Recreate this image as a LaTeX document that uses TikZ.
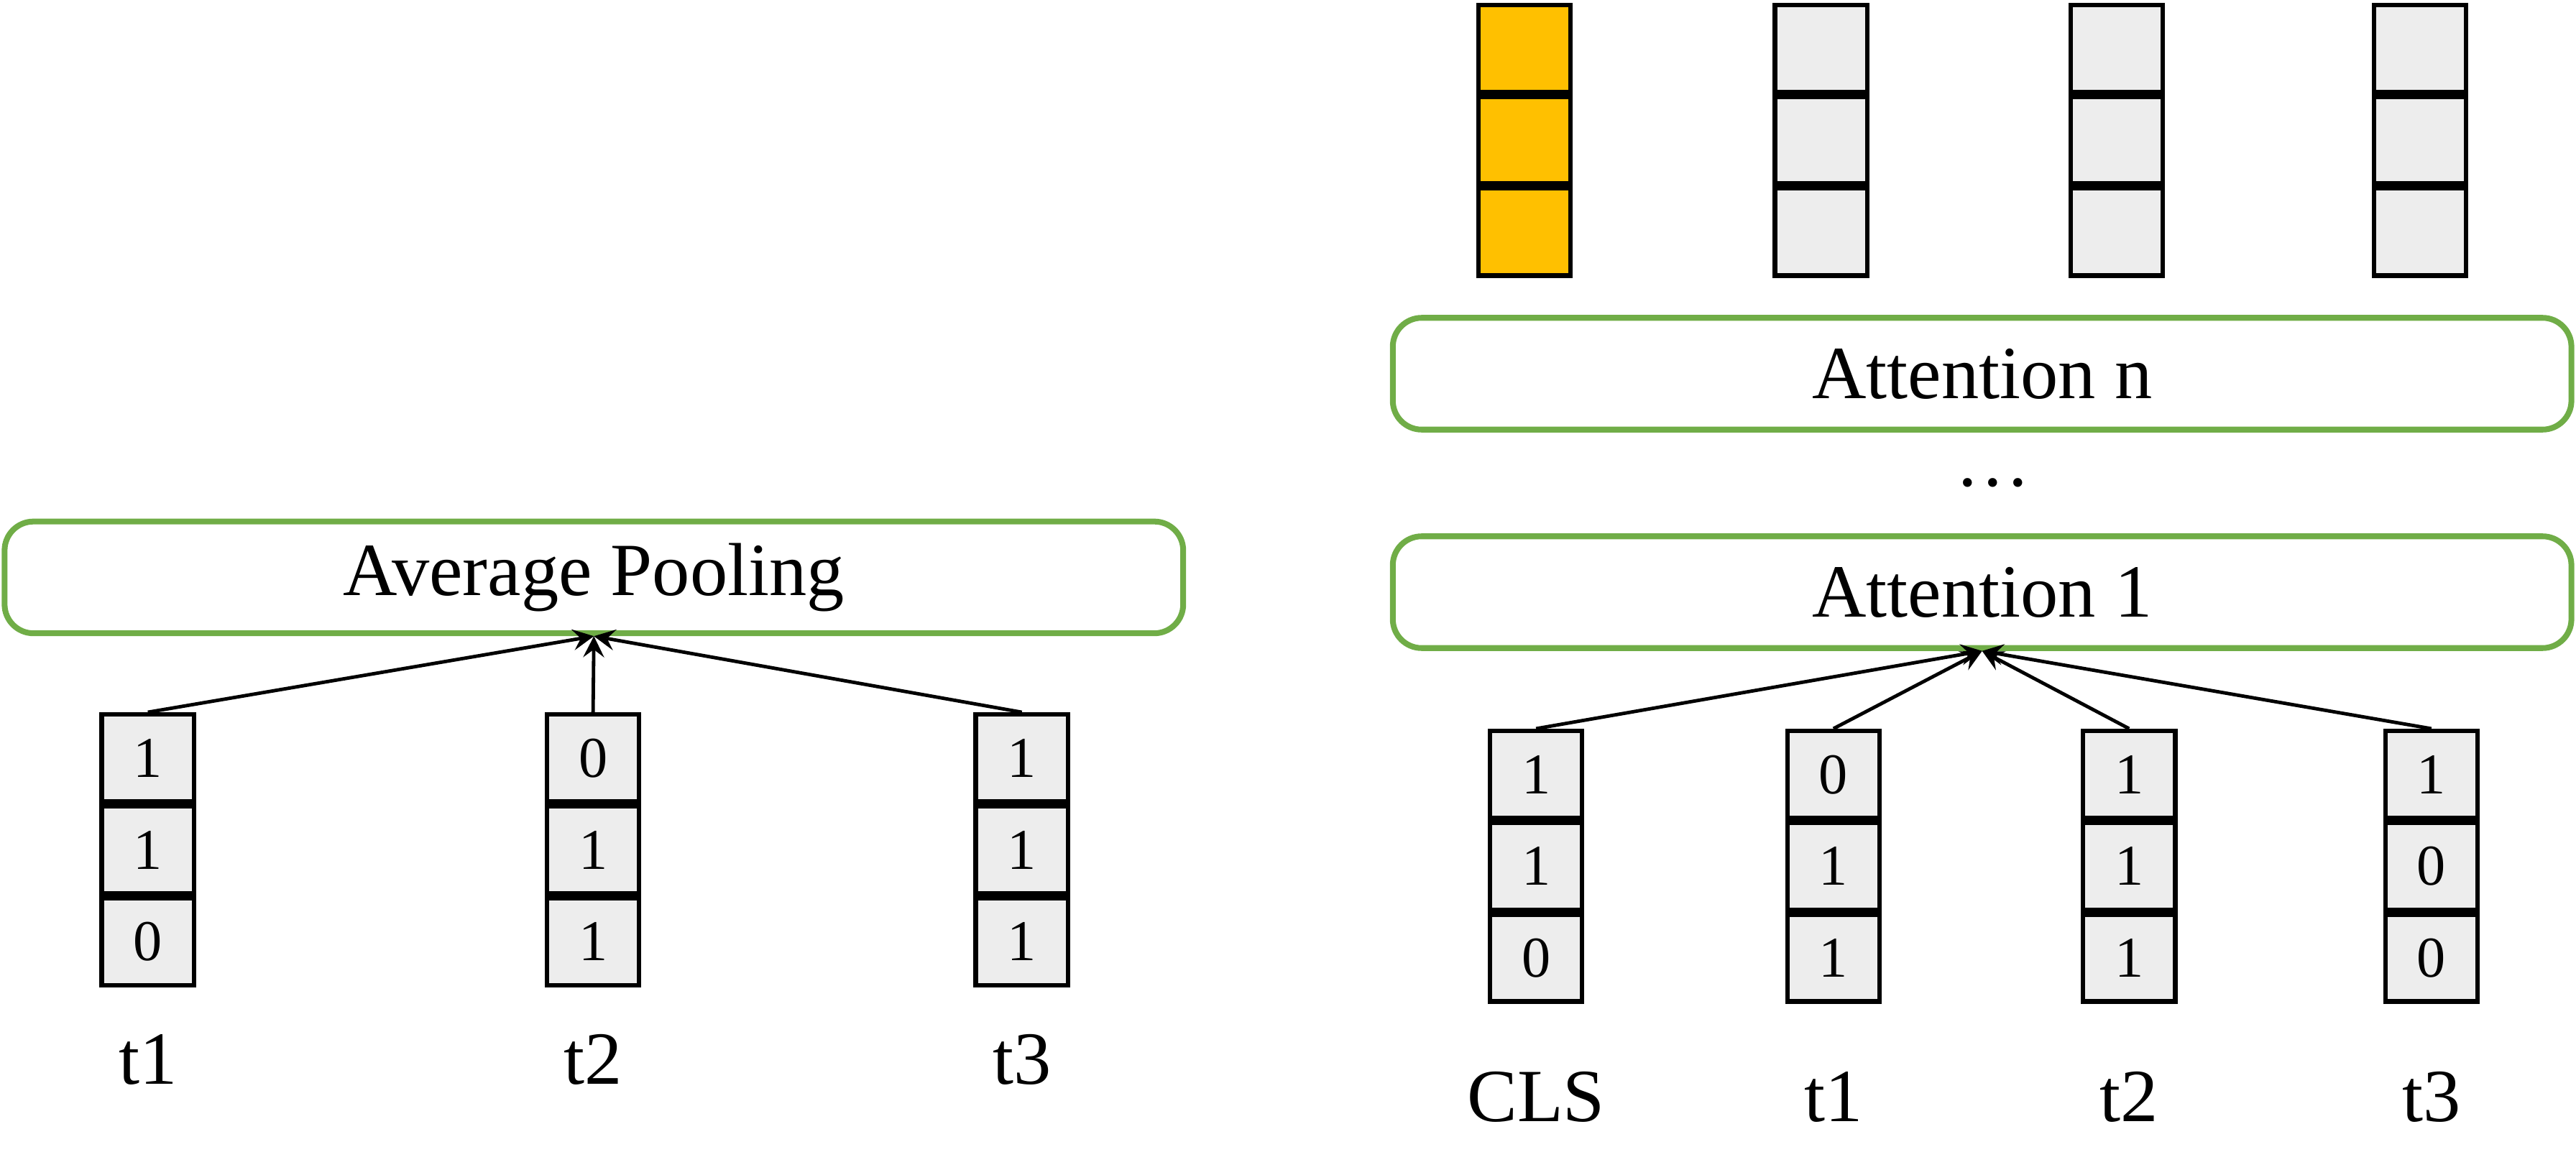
\documentclass[tikz,border=0pt]{standalone}
\usepackage{fontspec}
\setmainfont{Liberation Serif}
\usetikzlibrary{arrows,positioning}
\definecolor{boxgreen}{HTML}{70AD47}
\definecolor{cellgray}{HTML}{EDEDED}
\definecolor{clsorange}{HTML}{FFC000}

\begin{document}
\begin{tikzpicture}[
    x=0.01cm, y=-0.01cm,
    cell/.style={rectangle, draw, line width=0.8pt, fill=cellgray, minimum width=0.56cm, minimum height=0.53cm, inner sep=0pt, font=\fontsize{10}{12}\selectfont},
    layer/.style={rectangle, draw=boxgreen, line width=1pt, rounded corners=5pt, minimum width=7.17cm, minimum height=0.68cm, font=\fontsize{13}{15}\selectfont},
    tok/.style={font=\fontsize{13}{15}\selectfont},
    arrow/.style={->, >=stealth, line width=0.6pt},
]
    \useasboundingbox (0,0) rectangle (1568,712);

    % Left: average pooling
    \node[layer] (pool) at (361.5,351.5) {Average Pooling};
    \foreach \name/\x/\a/\b/\c/\t in {la/90/1/1/0/t1, lb/361/0/1/1/t2, lc/622/1/1/1/t3} {
        \node[cell] (\name1) at (\x,461.5) {\a};
        \node[cell, below=0pt of \name1] (\name2) {\b};
        \node[cell, below=0pt of \name2] (\name3) {\c};
        \node[tok] (\name t) at (\x,645) {\t};
        \draw[arrow] (\name1.north) -- (pool.south);
    }

    % Right: attention layers
    \node[layer] (attn) at (1206.5,227.5) {Attention n};
    \node[tok] (dots) at (1213,294) {\dots};
    \node[layer] (att1) at (1206.5,360.5) {Attention 1};
    \foreach \name/\x/\a/\b/\c/\t in {ra/935/1/1/0/CLS, rb/1116/0/1/1/t1, rc/1296/1/1/1/t2, rd/1480/1/0/0/t3} {
        \node[cell] (\name1) at (\x,471.5) {\a};
        \node[cell, below=0pt of \name1] (\name2) {\b};
        \node[cell, below=0pt of \name2] (\name3) {\c};
        \node[tok] (\name t) at (\x,668) {\t};
        \draw[arrow] (\name1.north) -- (att1.south);
    }

    % Output vectors
    \foreach \name/\x/\col in {oa/928/clsorange, ob/1108.5/cellgray, oc/1288.5/cellgray, od/1473/cellgray} {
        \node[cell, fill=\col] (\name1) at (\x,29.5) {};
        \node[cell, fill=\col, below=0pt of \name1] (\name2) {};
        \node[cell, fill=\col, below=0pt of \name2] (\name3) {};
    }
\end{tikzpicture}
\end{document}
